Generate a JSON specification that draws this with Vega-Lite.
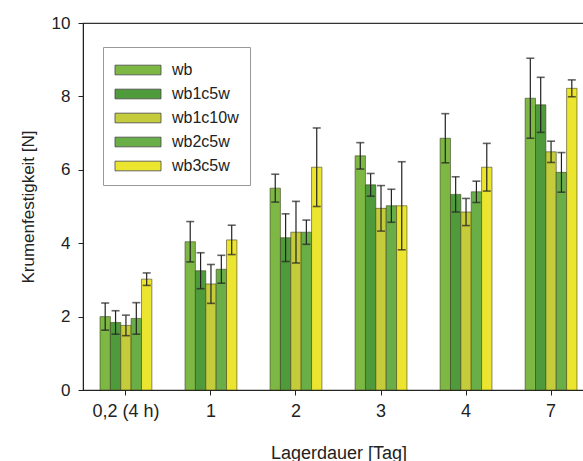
{
  "$schema": "https://vega.github.io/schema/vega-lite/v6.json",
  "width": 511,
  "height": 367,
  "autosize": {"type": "none"},
  "padding": {"left": 83, "top": 23, "right": 0, "bottom": 71},
  "background": "white",
  "config": {
    "font": "Liberation Sans",
    "view": {"stroke": "#333", "strokeWidth": 1.2},
    "axis": {"grid": false, "domainColor": "#222", "tickColor": "#222", "labelColor": "#222", "titleColor": "#222", "labelFontSize": 17, "titleFontSize": 17, "titleFontWeight": "normal", "tickSize": 5}
  },
  "data": {"values": [
    {"t": "0,2 (4 h)", "s": "wb", "v": 2.0, "lo": 1.63, "hi": 2.37},
    {"t": "0,2 (4 h)", "s": "wb1c5w", "v": 1.84, "lo": 1.52, "hi": 2.16},
    {"t": "0,2 (4 h)", "s": "wb1c10w", "v": 1.76, "lo": 1.48, "hi": 2.04},
    {"t": "0,2 (4 h)", "s": "wb2c5w", "v": 1.95, "lo": 1.52, "hi": 2.38},
    {"t": "0,2 (4 h)", "s": "wb3c5w", "v": 3.02, "lo": 2.85, "hi": 3.19},
    {"t": "1", "s": "wb", "v": 4.04, "lo": 3.49, "hi": 4.59},
    {"t": "1", "s": "wb1c5w", "v": 3.25, "lo": 2.76, "hi": 3.74},
    {"t": "1", "s": "wb1c10w", "v": 2.89, "lo": 2.36, "hi": 3.42},
    {"t": "1", "s": "wb2c5w", "v": 3.29, "lo": 2.91, "hi": 3.67},
    {"t": "1", "s": "wb3c5w", "v": 4.09, "lo": 3.69, "hi": 4.49},
    {"t": "2", "s": "wb", "v": 5.5, "lo": 5.12, "hi": 5.88},
    {"t": "2", "s": "wb1c5w", "v": 4.15, "lo": 3.5, "hi": 4.8},
    {"t": "2", "s": "wb1c10w", "v": 4.3, "lo": 3.46, "hi": 5.14},
    {"t": "2", "s": "wb2c5w", "v": 4.3, "lo": 3.97, "hi": 4.63},
    {"t": "2", "s": "wb3c5w", "v": 6.07, "lo": 5.0, "hi": 7.14},
    {"t": "3", "s": "wb", "v": 6.38, "lo": 6.02, "hi": 6.74},
    {"t": "3", "s": "wb1c5w", "v": 5.59, "lo": 5.28, "hi": 5.9},
    {"t": "3", "s": "wb1c10w", "v": 4.95, "lo": 4.33, "hi": 5.57},
    {"t": "3", "s": "wb2c5w", "v": 5.02, "lo": 4.57, "hi": 5.47},
    {"t": "3", "s": "wb3c5w", "v": 5.02, "lo": 3.82, "hi": 6.22},
    {"t": "4", "s": "wb", "v": 6.86, "lo": 6.19, "hi": 7.53},
    {"t": "4", "s": "wb1c5w", "v": 5.33, "lo": 4.85, "hi": 5.81},
    {"t": "4", "s": "wb1c10w", "v": 4.85, "lo": 4.48, "hi": 5.22},
    {"t": "4", "s": "wb2c5w", "v": 5.4, "lo": 5.11, "hi": 5.69},
    {"t": "4", "s": "wb3c5w", "v": 6.07, "lo": 5.42, "hi": 6.72},
    {"t": "7", "s": "wb", "v": 7.95, "lo": 6.86, "hi": 9.04},
    {"t": "7", "s": "wb1c5w", "v": 7.77, "lo": 7.02, "hi": 8.52},
    {"t": "7", "s": "wb1c10w", "v": 6.49, "lo": 6.2, "hi": 6.78},
    {"t": "7", "s": "wb2c5w", "v": 5.93, "lo": 5.39, "hi": 6.47},
    {"t": "7", "s": "wb3c5w", "v": 8.22, "lo": 7.99, "hi": 8.45}
  ]},
  "encoding": {
    "x": {"field": "t", "type": "nominal", "sort": null,
      "scale": {"paddingInner": 0.39, "paddingOuter": 0.2},
      "axis": {"title": "Lagerdauer [Tag]", "labelAngle": 0, "labelPadding": 7, "titlePadding": 24, "labelFontSize": 18, "titleFontSize": 18}},
    "xOffset": {"field": "s", "type": "nominal", "sort": ["wb", "wb1c5w", "wb1c10w", "wb2c5w", "wb3c5w"], "scale": {"paddingInner": 0, "paddingOuter": 0}}
  },
  "layer": [
    {
      "mark": {"type": "bar", "stroke": "#3a3a1a", "strokeWidth": 0.7, "strokeOpacity": 0.8},
      "encoding": {
        "y": {"field": "v", "type": "quantitative", "scale": {"domain": [0, 10]},
          "axis": {"title": "Krumenfestigkeit [N]", "values": [0, 2, 4, 6, 8, 10], "labelPadding": 8, "titlePadding": 14}},
        "color": {"field": "s", "type": "nominal", "sort": ["wb", "wb1c5w", "wb1c10w", "wb2c5w", "wb3c5w"],
          "scale": {"domain": ["wb", "wb1c5w", "wb1c10w", "wb2c5w", "wb3c5w"], "range": ["#7db844", "#4f9a3b", "#c4cc3c", "#6aae48", "#ece52f"]},
          "legend": {
            "title": null, "orient": "none", "legendX": 20, "legendY": 24,
            "fillColor": "white", "strokeColor": "#999", "padding": 11,
            "symbolType": "M-2,-0.42H2V0.42H-2Z", "symbolSize": 529, "symbolOffset": 12,
            "symbolStrokeColor": "#444", "symbolStrokeWidth": 0.8, "symbolOpacity": 1,
            "labelOffset": 22, "labelFontSize": 16, "labelColor": "#222", "rowPadding": 4
          }}
      }
    },
    {
      "mark": {"type": "rule", "color": "#222", "strokeWidth": 1.2},
      "encoding": {"y": {"field": "lo", "type": "quantitative"}, "y2": {"field": "hi"}}
    },
    {
      "mark": {"type": "tick", "color": "#222", "size": 8, "thickness": 1.6},
      "encoding": {"y": {"field": "lo", "type": "quantitative"}}
    },
    {
      "mark": {"type": "tick", "color": "#222", "size": 8, "thickness": 1.6},
      "encoding": {"y": {"field": "hi", "type": "quantitative"}}
    }
  ]
}
